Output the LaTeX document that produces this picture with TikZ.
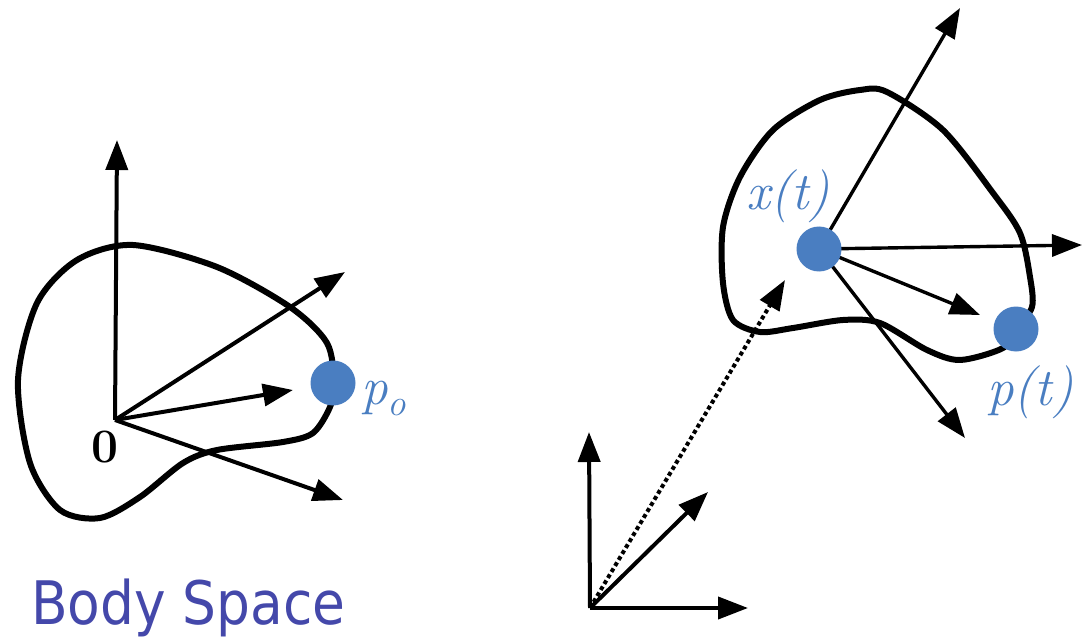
\documentclass[tikz,border=0pt]{standalone}
\usepackage{fontspec}
\newfontfamily\bodyfont{DejaVu Sans}
\usetikzlibrary{arrows.meta}
\definecolor{dotblue}{RGB}{74,126,193}
\definecolor{titleblue}{RGB}{68,72,170}
\begin{document}
\begin{tikzpicture}[x=1pt,y=-1pt,
  vec/.style={line width=4pt,-{Triangle[length=30pt,width=22pt]}},
  thinvec/.style={line width=3.4pt,-{Triangle[length=30pt,width=22pt]}},
  outline/.style={line width=6pt,line join=round},
  ptdot/.style={circle,fill=dotblue,inner sep=0pt,minimum size=45pt},
  lab/.style={text=dotblue,font=\fontsize{53}{60}\selectfont\itshape,inner sep=0pt}]
\useasboundingbox (0,0) rectangle (1084,639);

% ---------- left: body space ----------
\draw[outline] plot[smooth cycle] coordinates {
  (133,245) (217,267) (290,307) (327,343) (334,383) (330,407) (313,433)
  (283,442) (217,450) (183,463) (140,497) (100,518) (60,510) (30,463)
  (18,380) (37,303) (77,260)};
\coordinate (O) at (115,420);
\coordinate (Oup) at (117,140);
\coordinate (Oa) at (345,272);
\coordinate (Ob) at (293,390);
\coordinate (Oc) at (343,500);
\draw[vec] (O) -- (Oup);
\draw[vec] (O) -- (Oa);
\draw[vec] (O) -- (Ob);
\draw[vec] (O) -- (Oc);
\node[font=\fontsize{48}{54}\selectfont\bfseries,inner sep=0pt] (zero) at (105,447) {0};
\node[ptdot] (po) at (333,383) {};
\node[lab,anchor=base west] (polab) at (361,404) {p\raisebox{-0.22em}{\fontsize{37}{40}\selectfont o}};
\node[font=\bodyfont\fontsize{60}{70}\selectfont,text=titleblue,anchor=base west,inner sep=0pt,xscale=0.89] (title) at (31,624) {Body Space};

% ---------- right: world space ----------
\draw[outline] plot[smooth cycle] coordinates {
  (887,92) (943,130) (993,193) (1020,233) (1030,277) (1032,307) (1016,329)
  (1003,348) (960,360) (927,350) (880,323) (843,320) (793,328) (760,332)
  (733,320) (723,283) (723,227) (740,177) (773,130) (820,100) (860,90)};
\coordinate (xc) at (819,249);
\coordinate (xup) at (960,8);
\coordinate (xright) at (1082,245);
\coordinate (xmid) at (980,315);
\coordinate (xdown) at (965,438);
\draw[thinvec] (xc) -- (xup);
\draw[thinvec] (xc) -- (xright);
\draw[thinvec] (xc) -- (xmid);
\draw[thinvec] (xc) -- (xdown);
\node[ptdot] (x) at (xc) {};
\node[ptdot] (p) at (1016,329) {};
\node[lab,anchor=base] (xlab) at (788,210) {x(t)};
\node[lab,anchor=base west] (plab) at (987,405) {p(t)};

% world frame
\coordinate (W) at (590,608);
\coordinate (Wup) at (589,432);
\coordinate (Wright) at (748,608);
\coordinate (Wdiag) at (708,492);
\coordinate (Wx) at (785,280);
\draw[vec] (W) -- (Wup);
\draw[vec] (W) -- (Wright);
\draw[vec] (W) -- (Wdiag);
\draw[line width=4pt,dash pattern=on 4pt off 3pt,-{Triangle[length=30pt,width=22pt]}] (W) -- (Wx);
\end{tikzpicture}
\end{document}
